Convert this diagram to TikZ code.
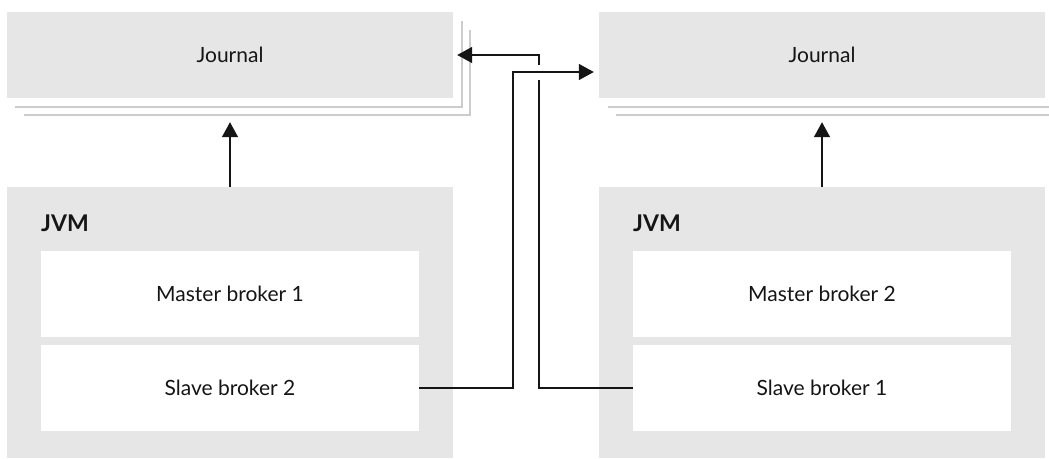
\documentclass[tikz,border=0pt]{standalone}
\usepackage{fontspec}
\setmainfont{Lato}
\usetikzlibrary{arrows.meta,calc}
\definecolor{boxgray}{HTML}{E6E6E6}
\definecolor{stackgray}{HTML}{CCCCCC}
\definecolor{ink}{HTML}{151515}
\begin{document}
\begin{tikzpicture}[x=1pt,y=-1pt,
  font=\fontsize{21}{24}\selectfont, text=ink,
  journal/.style={fill=boxgray, minimum width=446pt, minimum height=86pt, inner sep=0pt},
  jvm/.style={fill=boxgray, minimum width=446pt, minimum height=271pt, inner sep=0pt},
  broker/.style={fill=white, minimum width=378pt, minimum height=86pt, inner sep=0pt},
  stack/.style={draw=stackgray, line width=1.5pt},
  conn/.style={draw=ink, line width=1.5pt, -{Triangle[length=15pt,width=16pt]}},
  lbl/.style={font=\fontsize{23}{26}\selectfont\bfseries, inner sep=0pt, anchor=west}]
\useasboundingbox (0,0) rectangle (1049,458);
\clip (0,0) rectangle (1049,458);

% journals
\node[journal] (j1) at (230,55) {Journal};
\node[journal] (j2) at (822,55) {Journal};
\draw[stack] ($(j1.south west)+(8,9)$) -| ($(j1.north east)+(9,9)$);
\draw[stack] ($(j1.south west)+(17,17)$) -| ($(j1.north east)+(17,18)$);
\draw[stack] ($(j2.south west)+(9,9)$) -| ($(j2.north east)+(9,9)$);
\draw[stack] ($(j2.south west)+(17,17)$) -| ($(j2.north east)+(17,18)$);

% JVMs
\node[jvm] (v1) at (230,322.5) {};
\node[jvm] (v2) at (822,322.5) {};
\node[lbl] (v1l) at (41,223) {JVM};
\node[lbl] (v2l) at (633,223) {JVM};
\node[broker] (m1) at (230,294) {Master broker 1};
\node[broker] (s2) at (230,388) {Slave broker 2};
\node[broker] (m2) at (822,294) {Master broker 2};
\node[broker] (s1) at (822,388) {Slave broker 1};

% arrows
\coordinate (t1) at ($(j1.east)+(4,0)$);
\coordinate (t2) at ($(j2.west)+(-5,17)$);
\draw[conn] (v1.north) -- ($(j1.south)+(0,24)$);
\draw[conn] (v2.north) -- ($(j2.south)+(0,24)$);
\draw[conn] (s1.west) -- ++(-94,0) |- (t1);
\draw[white, line width=15pt] (530,72.5) -- (548,72.5);
\draw[conn] (s2.east) -- ++(94,0) |- (t2);
\end{tikzpicture}
\end{document}
